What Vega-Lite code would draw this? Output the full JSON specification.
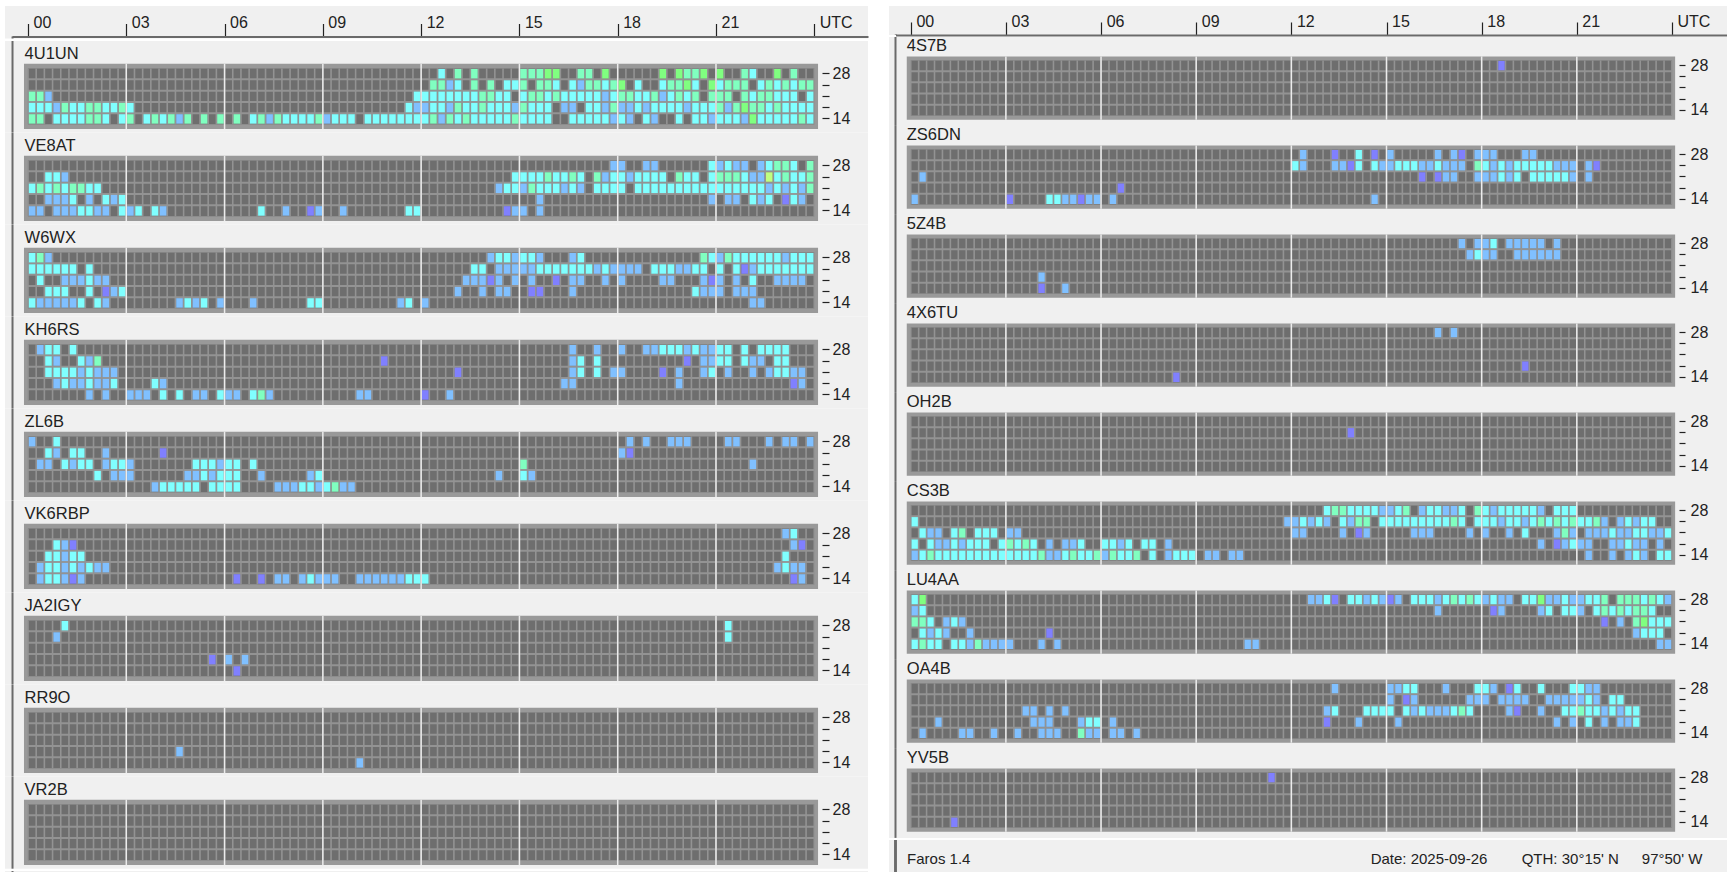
{"$schema":"https://vega.github.io/schema/vega-lite/v6.json","background":"white","padding":{"left":5,"top":6,"right":0,"bottom":0},
"config":{"view":{"fill":"#f0f0f0","stroke":null},"text":{"font":"Liberation Sans","color":"#222"}},
"datasets":{
"slots":[{"q":0},{"q":1},{"q":2},{"q":3},{"q":4},{"q":5},{"q":6},{"q":7},{"q":8},{"q":9},{"q":10},{"q":11},{"q":12},{"q":13},{"q":14},{"q":15},{"q":16},{"q":17},{"q":18},{"q":19},{"q":20},{"q":21},{"q":22},{"q":23},{"q":24},{"q":25},{"q":26},{"q":27},{"q":28},{"q":29},{"q":30},{"q":31},{"q":32},{"q":33},{"q":34},{"q":35},{"q":36},{"q":37},{"q":38},{"q":39},{"q":40},{"q":41},{"q":42},{"q":43},{"q":44},{"q":45},{"q":46},{"q":47},{"q":48},{"q":49},{"q":50},{"q":51},{"q":52},{"q":53},{"q":54},{"q":55},{"q":56},{"q":57},{"q":58},{"q":59},{"q":60},{"q":61},{"q":62},{"q":63},{"q":64},{"q":65},{"q":66},{"q":67},{"q":68},{"q":69},{"q":70},{"q":71},{"q":72},{"q":73},{"q":74},{"q":75},{"q":76},{"q":77},{"q":78},{"q":79},{"q":80},{"q":81},{"q":82},{"q":83},{"q":84},{"q":85},{"q":86},{"q":87},{"q":88},{"q":89},{"q":90},{"q":91},{"q":92},{"q":93},{"q":94},{"q":95},{"q":96}],
"seps":[{"b":28},{"b":24},{"b":21},{"b":18}],
"hours":[{"q":12},{"q":24},{"q":36},{"q":48},{"q":60},{"q":72},{"q":84}],
"L":[
{"s":"4U1UN","b":28,"q":50,"v":3},{"s":"4U1UN","b":28,"q":52,"v":4},{"s":"4U1UN","b":28,"q":54,"v":4},{"s":"4U1UN","b":28,"q":60,"v":4},{"s":"4U1UN","b":28,"q":61,"v":4},{"s":"4U1UN","b":28,"q":62,"v":4},{"s":"4U1UN","b":28,"q":63,"v":5},{"s":"4U1UN","b":28,"q":64,"v":5},{"s":"4U1UN","b":28,"q":67,"v":4},{"s":"4U1UN","b":28,"q":68,"v":4},{"s":"4U1UN","b":28,"q":70,"v":5},{"s":"4U1UN","b":28,"q":77,"v":5},{"s":"4U1UN","b":28,"q":79,"v":5},{"s":"4U1UN","b":28,"q":80,"v":4},{"s":"4U1UN","b":28,"q":81,"v":4},{"s":"4U1UN","b":28,"q":82,"v":5},{"s":"4U1UN","b":28,"q":84,"v":5},{"s":"4U1UN","b":28,"q":87,"v":4},{"s":"4U1UN","b":28,"q":88,"v":3},{"s":"4U1UN","b":28,"q":91,"v":5},{"s":"4U1UN","b":28,"q":93,"v":4},
{"s":"4U1UN","b":24,"q":49,"v":4},{"s":"4U1UN","b":24,"q":50,"v":4},{"s":"4U1UN","b":24,"q":51,"v":2},{"s":"4U1UN","b":24,"q":52,"v":3},{"s":"4U1UN","b":24,"q":54,"v":4},{"s":"4U1UN","b":24,"q":56,"v":4},{"s":"4U1UN","b":24,"q":58,"v":3},{"s":"4U1UN","b":24,"q":59,"v":3},{"s":"4U1UN","b":24,"q":60,"v":4},{"s":"4U1UN","b":24,"q":62,"v":4},{"s":"4U1UN","b":24,"q":63,"v":4},{"s":"4U1UN","b":24,"q":64,"v":3},{"s":"4U1UN","b":24,"q":66,"v":3},{"s":"4U1UN","b":24,"q":67,"v":2},{"s":"4U1UN","b":24,"q":68,"v":4},{"s":"4U1UN","b":24,"q":69,"v":4},{"s":"4U1UN","b":24,"q":70,"v":3},{"s":"4U1UN","b":24,"q":71,"v":4},{"s":"4U1UN","b":24,"q":72,"v":5},{"s":"4U1UN","b":24,"q":74,"v":3},{"s":"4U1UN","b":24,"q":77,"v":3},{"s":"4U1UN","b":24,"q":78,"v":4},{"s":"4U1UN","b":24,"q":79,"v":4},{"s":"4U1UN","b":24,"q":80,"v":5},{"s":"4U1UN","b":24,"q":81,"v":3},{"s":"4U1UN","b":24,"q":83,"v":5},{"s":"4U1UN","b":24,"q":84,"v":3},{"s":"4U1UN","b":24,"q":85,"v":4},{"s":"4U1UN","b":24,"q":86,"v":4},{"s":"4U1UN","b":24,"q":87,"v":4},{"s":"4U1UN","b":24,"q":89,"v":3},{"s":"4U1UN","b":24,"q":90,"v":4},{"s":"4U1UN","b":24,"q":91,"v":3},{"s":"4U1UN","b":24,"q":92,"v":4},{"s":"4U1UN","b":24,"q":93,"v":3},{"s":"4U1UN","b":24,"q":94,"v":4},{"s":"4U1UN","b":24,"q":95,"v":4},
{"s":"4U1UN","b":21,"q":0,"v":4},{"s":"4U1UN","b":21,"q":1,"v":4},{"s":"4U1UN","b":21,"q":2,"v":2},{"s":"4U1UN","b":21,"q":47,"v":3},{"s":"4U1UN","b":21,"q":48,"v":3},{"s":"4U1UN","b":21,"q":49,"v":3},{"s":"4U1UN","b":21,"q":50,"v":3},{"s":"4U1UN","b":21,"q":51,"v":3},{"s":"4U1UN","b":21,"q":52,"v":3},{"s":"4U1UN","b":21,"q":53,"v":3},{"s":"4U1UN","b":21,"q":54,"v":3},{"s":"4U1UN","b":21,"q":55,"v":4},{"s":"4U1UN","b":21,"q":56,"v":4},{"s":"4U1UN","b":21,"q":57,"v":3},{"s":"4U1UN","b":21,"q":58,"v":3},{"s":"4U1UN","b":21,"q":60,"v":3},{"s":"4U1UN","b":21,"q":61,"v":4},{"s":"4U1UN","b":21,"q":62,"v":4},{"s":"4U1UN","b":21,"q":63,"v":3},{"s":"4U1UN","b":21,"q":64,"v":4},{"s":"4U1UN","b":21,"q":65,"v":3},{"s":"4U1UN","b":21,"q":66,"v":3},{"s":"4U1UN","b":21,"q":67,"v":3},{"s":"4U1UN","b":21,"q":68,"v":3},{"s":"4U1UN","b":21,"q":69,"v":3},{"s":"4U1UN","b":21,"q":70,"v":2},{"s":"4U1UN","b":21,"q":71,"v":3},{"s":"4U1UN","b":21,"q":72,"v":4},{"s":"4U1UN","b":21,"q":73,"v":4},{"s":"4U1UN","b":21,"q":74,"v":3},{"s":"4U1UN","b":21,"q":75,"v":3},{"s":"4U1UN","b":21,"q":76,"v":4},{"s":"4U1UN","b":21,"q":77,"v":2},{"s":"4U1UN","b":21,"q":78,"v":3},{"s":"4U1UN","b":21,"q":79,"v":4},{"s":"4U1UN","b":21,"q":80,"v":3},{"s":"4U1UN","b":21,"q":81,"v":4},{"s":"4U1UN","b":21,"q":83,"v":4},{"s":"4U1UN","b":21,"q":84,"v":4},{"s":"4U1UN","b":21,"q":85,"v":4},{"s":"4U1UN","b":21,"q":87,"v":4},{"s":"4U1UN","b":21,"q":88,"v":3},{"s":"4U1UN","b":21,"q":89,"v":4},{"s":"4U1UN","b":21,"q":90,"v":4},{"s":"4U1UN","b":21,"q":91,"v":3},{"s":"4U1UN","b":21,"q":92,"v":3},{"s":"4U1UN","b":21,"q":93,"v":3},{"s":"4U1UN","b":21,"q":95,"v":3},
{"s":"4U1UN","b":18,"q":0,"v":3},{"s":"4U1UN","b":18,"q":1,"v":3},{"s":"4U1UN","b":18,"q":2,"v":3},{"s":"4U1UN","b":18,"q":3,"v":2},{"s":"4U1UN","b":18,"q":4,"v":4},{"s":"4U1UN","b":18,"q":5,"v":3},{"s":"4U1UN","b":18,"q":6,"v":3},{"s":"4U1UN","b":18,"q":7,"v":4},{"s":"4U1UN","b":18,"q":8,"v":4},{"s":"4U1UN","b":18,"q":9,"v":3},{"s":"4U1UN","b":18,"q":10,"v":3},{"s":"4U1UN","b":18,"q":11,"v":4},{"s":"4U1UN","b":18,"q":12,"v":3},{"s":"4U1UN","b":18,"q":46,"v":3},{"s":"4U1UN","b":18,"q":47,"v":2},{"s":"4U1UN","b":18,"q":48,"v":2},{"s":"4U1UN","b":18,"q":49,"v":3},{"s":"4U1UN","b":18,"q":50,"v":3},{"s":"4U1UN","b":18,"q":51,"v":2},{"s":"4U1UN","b":18,"q":52,"v":4},{"s":"4U1UN","b":18,"q":53,"v":3},{"s":"4U1UN","b":18,"q":54,"v":3},{"s":"4U1UN","b":18,"q":55,"v":4},{"s":"4U1UN","b":18,"q":56,"v":3},{"s":"4U1UN","b":18,"q":57,"v":3},{"s":"4U1UN","b":18,"q":58,"v":3},{"s":"4U1UN","b":18,"q":59,"v":2},{"s":"4U1UN","b":18,"q":60,"v":4},{"s":"4U1UN","b":18,"q":61,"v":3},{"s":"4U1UN","b":18,"q":62,"v":3},{"s":"4U1UN","b":18,"q":63,"v":3},{"s":"4U1UN","b":18,"q":65,"v":2},{"s":"4U1UN","b":18,"q":66,"v":2},{"s":"4U1UN","b":18,"q":68,"v":3},{"s":"4U1UN","b":18,"q":69,"v":3},{"s":"4U1UN","b":18,"q":70,"v":2},{"s":"4U1UN","b":18,"q":71,"v":4},{"s":"4U1UN","b":18,"q":72,"v":2},{"s":"4U1UN","b":18,"q":73,"v":2},{"s":"4U1UN","b":18,"q":74,"v":3},{"s":"4U1UN","b":18,"q":75,"v":2},{"s":"4U1UN","b":18,"q":76,"v":3},{"s":"4U1UN","b":18,"q":77,"v":3},{"s":"4U1UN","b":18,"q":78,"v":3},{"s":"4U1UN","b":18,"q":79,"v":3},{"s":"4U1UN","b":18,"q":80,"v":2},{"s":"4U1UN","b":18,"q":81,"v":3},{"s":"4U1UN","b":18,"q":82,"v":3},{"s":"4U1UN","b":18,"q":83,"v":3},{"s":"4U1UN","b":18,"q":84,"v":4},{"s":"4U1UN","b":18,"q":85,"v":2},{"s":"4U1UN","b":18,"q":86,"v":4},{"s":"4U1UN","b":18,"q":87,"v":5},{"s":"4U1UN","b":18,"q":88,"v":4},{"s":"4U1UN","b":18,"q":89,"v":4},{"s":"4U1UN","b":18,"q":90,"v":3},{"s":"4U1UN","b":18,"q":91,"v":4},{"s":"4U1UN","b":18,"q":92,"v":3},{"s":"4U1UN","b":18,"q":93,"v":3},{"s":"4U1UN","b":18,"q":94,"v":3},{"s":"4U1UN","b":18,"q":95,"v":3},
{"s":"4U1UN","b":14,"q":0,"v":4},{"s":"4U1UN","b":14,"q":1,"v":4},{"s":"4U1UN","b":14,"q":3,"v":3},{"s":"4U1UN","b":14,"q":4,"v":3},{"s":"4U1UN","b":14,"q":5,"v":3},{"s":"4U1UN","b":14,"q":6,"v":3},{"s":"4U1UN","b":14,"q":7,"v":4},{"s":"4U1UN","b":14,"q":8,"v":4},{"s":"4U1UN","b":14,"q":9,"v":3},{"s":"4U1UN","b":14,"q":11,"v":3},{"s":"4U1UN","b":14,"q":12,"v":4},{"s":"4U1UN","b":14,"q":14,"v":3},{"s":"4U1UN","b":14,"q":15,"v":4},{"s":"4U1UN","b":14,"q":16,"v":3},{"s":"4U1UN","b":14,"q":17,"v":4},{"s":"4U1UN","b":14,"q":18,"v":2},{"s":"4U1UN","b":14,"q":19,"v":4},{"s":"4U1UN","b":14,"q":21,"v":4},{"s":"4U1UN","b":14,"q":23,"v":4},{"s":"4U1UN","b":14,"q":25,"v":4},{"s":"4U1UN","b":14,"q":27,"v":3},{"s":"4U1UN","b":14,"q":28,"v":4},{"s":"4U1UN","b":14,"q":29,"v":2},{"s":"4U1UN","b":14,"q":30,"v":4},{"s":"4U1UN","b":14,"q":31,"v":3},{"s":"4U1UN","b":14,"q":32,"v":3},{"s":"4U1UN","b":14,"q":33,"v":3},{"s":"4U1UN","b":14,"q":34,"v":3},{"s":"4U1UN","b":14,"q":35,"v":4},{"s":"4U1UN","b":14,"q":36,"v":2},{"s":"4U1UN","b":14,"q":37,"v":3},{"s":"4U1UN","b":14,"q":38,"v":3},{"s":"4U1UN","b":14,"q":39,"v":3},{"s":"4U1UN","b":14,"q":41,"v":3},{"s":"4U1UN","b":14,"q":42,"v":3},{"s":"4U1UN","b":14,"q":43,"v":3},{"s":"4U1UN","b":14,"q":44,"v":3},{"s":"4U1UN","b":14,"q":45,"v":3},{"s":"4U1UN","b":14,"q":46,"v":3},{"s":"4U1UN","b":14,"q":47,"v":3},{"s":"4U1UN","b":14,"q":48,"v":3},{"s":"4U1UN","b":14,"q":49,"v":4},{"s":"4U1UN","b":14,"q":50,"v":2},{"s":"4U1UN","b":14,"q":51,"v":4},{"s":"4U1UN","b":14,"q":52,"v":3},{"s":"4U1UN","b":14,"q":53,"v":4},{"s":"4U1UN","b":14,"q":54,"v":3},{"s":"4U1UN","b":14,"q":55,"v":3},{"s":"4U1UN","b":14,"q":56,"v":3},{"s":"4U1UN","b":14,"q":57,"v":3},{"s":"4U1UN","b":14,"q":58,"v":3},{"s":"4U1UN","b":14,"q":59,"v":4},{"s":"4U1UN","b":14,"q":60,"v":3},{"s":"4U1UN","b":14,"q":61,"v":3},{"s":"4U1UN","b":14,"q":62,"v":3},{"s":"4U1UN","b":14,"q":63,"v":3},{"s":"4U1UN","b":14,"q":66,"v":3},{"s":"4U1UN","b":14,"q":67,"v":3},{"s":"4U1UN","b":14,"q":68,"v":3},{"s":"4U1UN","b":14,"q":69,"v":3},{"s":"4U1UN","b":14,"q":70,"v":3},{"s":"4U1UN","b":14,"q":71,"v":2},{"s":"4U1UN","b":14,"q":72,"v":3},{"s":"4U1UN","b":14,"q":73,"v":2},{"s":"4U1UN","b":14,"q":75,"v":3},{"s":"4U1UN","b":14,"q":76,"v":2},{"s":"4U1UN","b":14,"q":79,"v":3},{"s":"4U1UN","b":14,"q":81,"v":3},{"s":"4U1UN","b":14,"q":82,"v":3},{"s":"4U1UN","b":14,"q":83,"v":2},{"s":"4U1UN","b":14,"q":84,"v":3},{"s":"4U1UN","b":14,"q":85,"v":3},{"s":"4U1UN","b":14,"q":86,"v":3},{"s":"4U1UN","b":14,"q":87,"v":2},{"s":"4U1UN","b":14,"q":88,"v":5},{"s":"4U1UN","b":14,"q":89,"v":3},{"s":"4U1UN","b":14,"q":90,"v":3},{"s":"4U1UN","b":14,"q":91,"v":3},{"s":"4U1UN","b":14,"q":92,"v":3},{"s":"4U1UN","b":14,"q":93,"v":3},{"s":"4U1UN","b":14,"q":94,"v":4},{"s":"4U1UN","b":14,"q":95,"v":3},
{"s":"VE8AT","b":28,"q":71,"v":2},{"s":"VE8AT","b":28,"q":72,"v":2},{"s":"VE8AT","b":28,"q":75,"v":2},{"s":"VE8AT","b":28,"q":76,"v":2},{"s":"VE8AT","b":28,"q":83,"v":3},{"s":"VE8AT","b":28,"q":84,"v":2},{"s":"VE8AT","b":28,"q":85,"v":3},{"s":"VE8AT","b":28,"q":86,"v":2},{"s":"VE8AT","b":28,"q":87,"v":2},{"s":"VE8AT","b":28,"q":89,"v":2},{"s":"VE8AT","b":28,"q":90,"v":3},{"s":"VE8AT","b":28,"q":91,"v":4},{"s":"VE8AT","b":28,"q":92,"v":4},{"s":"VE8AT","b":28,"q":93,"v":3},{"s":"VE8AT","b":28,"q":95,"v":4},
{"s":"VE8AT","b":24,"q":2,"v":3},{"s":"VE8AT","b":24,"q":3,"v":3},{"s":"VE8AT","b":24,"q":4,"v":2},{"s":"VE8AT","b":24,"q":59,"v":3},{"s":"VE8AT","b":24,"q":60,"v":3},{"s":"VE8AT","b":24,"q":61,"v":3},{"s":"VE8AT","b":24,"q":62,"v":3},{"s":"VE8AT","b":24,"q":63,"v":4},{"s":"VE8AT","b":24,"q":64,"v":3},{"s":"VE8AT","b":24,"q":65,"v":3},{"s":"VE8AT","b":24,"q":66,"v":4},{"s":"VE8AT","b":24,"q":67,"v":3},{"s":"VE8AT","b":24,"q":69,"v":4},{"s":"VE8AT","b":24,"q":70,"v":2},{"s":"VE8AT","b":24,"q":71,"v":3},{"s":"VE8AT","b":24,"q":72,"v":3},{"s":"VE8AT","b":24,"q":73,"v":2},{"s":"VE8AT","b":24,"q":74,"v":3},{"s":"VE8AT","b":24,"q":75,"v":3},{"s":"VE8AT","b":24,"q":76,"v":3},{"s":"VE8AT","b":24,"q":77,"v":3},{"s":"VE8AT","b":24,"q":79,"v":4},{"s":"VE8AT","b":24,"q":80,"v":3},{"s":"VE8AT","b":24,"q":81,"v":3},{"s":"VE8AT","b":24,"q":83,"v":3},{"s":"VE8AT","b":24,"q":84,"v":4},{"s":"VE8AT","b":24,"q":85,"v":4},{"s":"VE8AT","b":24,"q":86,"v":4},{"s":"VE8AT","b":24,"q":87,"v":3},{"s":"VE8AT","b":24,"q":88,"v":2},{"s":"VE8AT","b":24,"q":89,"v":2},{"s":"VE8AT","b":24,"q":90,"v":6},{"s":"VE8AT","b":24,"q":91,"v":3},{"s":"VE8AT","b":24,"q":92,"v":4},{"s":"VE8AT","b":24,"q":93,"v":3},{"s":"VE8AT","b":24,"q":94,"v":3},{"s":"VE8AT","b":24,"q":95,"v":4},
{"s":"VE8AT","b":21,"q":0,"v":3},{"s":"VE8AT","b":21,"q":1,"v":4},{"s":"VE8AT","b":21,"q":2,"v":3},{"s":"VE8AT","b":21,"q":3,"v":4},{"s":"VE8AT","b":21,"q":4,"v":3},{"s":"VE8AT","b":21,"q":5,"v":4},{"s":"VE8AT","b":21,"q":6,"v":4},{"s":"VE8AT","b":21,"q":7,"v":3},{"s":"VE8AT","b":21,"q":8,"v":3},{"s":"VE8AT","b":21,"q":57,"v":2},{"s":"VE8AT","b":21,"q":58,"v":3},{"s":"VE8AT","b":21,"q":59,"v":3},{"s":"VE8AT","b":21,"q":60,"v":2},{"s":"VE8AT","b":21,"q":61,"v":4},{"s":"VE8AT","b":21,"q":62,"v":3},{"s":"VE8AT","b":21,"q":63,"v":3},{"s":"VE8AT","b":21,"q":64,"v":3},{"s":"VE8AT","b":21,"q":65,"v":2},{"s":"VE8AT","b":21,"q":66,"v":3},{"s":"VE8AT","b":21,"q":67,"v":2},{"s":"VE8AT","b":21,"q":69,"v":3},{"s":"VE8AT","b":21,"q":70,"v":3},{"s":"VE8AT","b":21,"q":71,"v":3},{"s":"VE8AT","b":21,"q":72,"v":3},{"s":"VE8AT","b":21,"q":74,"v":3},{"s":"VE8AT","b":21,"q":75,"v":3},{"s":"VE8AT","b":21,"q":76,"v":3},{"s":"VE8AT","b":21,"q":77,"v":3},{"s":"VE8AT","b":21,"q":78,"v":3},{"s":"VE8AT","b":21,"q":79,"v":3},{"s":"VE8AT","b":21,"q":80,"v":3},{"s":"VE8AT","b":21,"q":81,"v":3},{"s":"VE8AT","b":21,"q":82,"v":3},{"s":"VE8AT","b":21,"q":83,"v":3},{"s":"VE8AT","b":21,"q":84,"v":3},{"s":"VE8AT","b":21,"q":85,"v":3},{"s":"VE8AT","b":21,"q":86,"v":3},{"s":"VE8AT","b":21,"q":87,"v":3},{"s":"VE8AT","b":21,"q":88,"v":3},{"s":"VE8AT","b":21,"q":89,"v":3},{"s":"VE8AT","b":21,"q":90,"v":2},{"s":"VE8AT","b":21,"q":91,"v":3},{"s":"VE8AT","b":21,"q":92,"v":2},{"s":"VE8AT","b":21,"q":93,"v":3},{"s":"VE8AT","b":21,"q":94,"v":2},{"s":"VE8AT","b":21,"q":95,"v":4},
{"s":"VE8AT","b":18,"q":2,"v":2},{"s":"VE8AT","b":18,"q":3,"v":2},{"s":"VE8AT","b":18,"q":4,"v":2},{"s":"VE8AT","b":18,"q":5,"v":3},{"s":"VE8AT","b":18,"q":7,"v":2},{"s":"VE8AT","b":18,"q":9,"v":3},{"s":"VE8AT","b":18,"q":10,"v":2},{"s":"VE8AT","b":18,"q":11,"v":3},{"s":"VE8AT","b":18,"q":62,"v":2},{"s":"VE8AT","b":18,"q":83,"v":2},{"s":"VE8AT","b":18,"q":85,"v":2},{"s":"VE8AT","b":18,"q":86,"v":2},{"s":"VE8AT","b":18,"q":88,"v":3},{"s":"VE8AT","b":18,"q":89,"v":2},{"s":"VE8AT","b":18,"q":90,"v":3},{"s":"VE8AT","b":18,"q":92,"v":1},{"s":"VE8AT","b":18,"q":93,"v":3},{"s":"VE8AT","b":18,"q":94,"v":2},
{"s":"VE8AT","b":14,"q":0,"v":2},{"s":"VE8AT","b":14,"q":1,"v":2},{"s":"VE8AT","b":14,"q":3,"v":2},{"s":"VE8AT","b":14,"q":4,"v":2},{"s":"VE8AT","b":14,"q":5,"v":2},{"s":"VE8AT","b":14,"q":6,"v":3},{"s":"VE8AT","b":14,"q":7,"v":3},{"s":"VE8AT","b":14,"q":8,"v":2},{"s":"VE8AT","b":14,"q":9,"v":2},{"s":"VE8AT","b":14,"q":11,"v":3},{"s":"VE8AT","b":14,"q":12,"v":2},{"s":"VE8AT","b":14,"q":13,"v":3},{"s":"VE8AT","b":14,"q":15,"v":3},{"s":"VE8AT","b":14,"q":16,"v":2},{"s":"VE8AT","b":14,"q":28,"v":3},{"s":"VE8AT","b":14,"q":31,"v":2},{"s":"VE8AT","b":14,"q":34,"v":1},{"s":"VE8AT","b":14,"q":35,"v":2},{"s":"VE8AT","b":14,"q":38,"v":2},{"s":"VE8AT","b":14,"q":46,"v":3},{"s":"VE8AT","b":14,"q":47,"v":3},{"s":"VE8AT","b":14,"q":58,"v":1},{"s":"VE8AT","b":14,"q":59,"v":2},{"s":"VE8AT","b":14,"q":60,"v":2},{"s":"VE8AT","b":14,"q":62,"v":2},
{"s":"W6WX","b":28,"q":0,"v":3},{"s":"W6WX","b":28,"q":1,"v":4},{"s":"W6WX","b":28,"q":2,"v":2},{"s":"W6WX","b":28,"q":56,"v":2},{"s":"W6WX","b":28,"q":57,"v":3},{"s":"W6WX","b":28,"q":58,"v":3},{"s":"W6WX","b":28,"q":59,"v":2},{"s":"W6WX","b":28,"q":60,"v":3},{"s":"W6WX","b":28,"q":61,"v":3},{"s":"W6WX","b":28,"q":62,"v":2},{"s":"W6WX","b":28,"q":66,"v":2},{"s":"W6WX","b":28,"q":67,"v":3},{"s":"W6WX","b":28,"q":82,"v":4},{"s":"W6WX","b":28,"q":83,"v":3},{"s":"W6WX","b":28,"q":84,"v":2},{"s":"W6WX","b":28,"q":85,"v":4},{"s":"W6WX","b":28,"q":86,"v":3},{"s":"W6WX","b":28,"q":87,"v":3},{"s":"W6WX","b":28,"q":88,"v":3},{"s":"W6WX","b":28,"q":89,"v":3},{"s":"W6WX","b":28,"q":90,"v":3},{"s":"W6WX","b":28,"q":91,"v":3},{"s":"W6WX","b":28,"q":92,"v":2},{"s":"W6WX","b":28,"q":93,"v":3},{"s":"W6WX","b":28,"q":94,"v":3},{"s":"W6WX","b":28,"q":95,"v":3},
{"s":"W6WX","b":24,"q":0,"v":3},{"s":"W6WX","b":24,"q":1,"v":3},{"s":"W6WX","b":24,"q":2,"v":3},{"s":"W6WX","b":24,"q":3,"v":3},{"s":"W6WX","b":24,"q":4,"v":3},{"s":"W6WX","b":24,"q":5,"v":3},{"s":"W6WX","b":24,"q":7,"v":3},{"s":"W6WX","b":24,"q":54,"v":3},{"s":"W6WX","b":24,"q":55,"v":3},{"s":"W6WX","b":24,"q":57,"v":2},{"s":"W6WX","b":24,"q":58,"v":2},{"s":"W6WX","b":24,"q":59,"v":2},{"s":"W6WX","b":24,"q":60,"v":2},{"s":"W6WX","b":24,"q":61,"v":2},{"s":"W6WX","b":24,"q":62,"v":3},{"s":"W6WX","b":24,"q":63,"v":3},{"s":"W6WX","b":24,"q":64,"v":3},{"s":"W6WX","b":24,"q":65,"v":3},{"s":"W6WX","b":24,"q":66,"v":3},{"s":"W6WX","b":24,"q":67,"v":3},{"s":"W6WX","b":24,"q":68,"v":3},{"s":"W6WX","b":24,"q":69,"v":2},{"s":"W6WX","b":24,"q":70,"v":3},{"s":"W6WX","b":24,"q":71,"v":2},{"s":"W6WX","b":24,"q":72,"v":2},{"s":"W6WX","b":24,"q":73,"v":2},{"s":"W6WX","b":24,"q":74,"v":2},{"s":"W6WX","b":24,"q":76,"v":3},{"s":"W6WX","b":24,"q":77,"v":3},{"s":"W6WX","b":24,"q":78,"v":3},{"s":"W6WX","b":24,"q":79,"v":2},{"s":"W6WX","b":24,"q":80,"v":2},{"s":"W6WX","b":24,"q":81,"v":3},{"s":"W6WX","b":24,"q":82,"v":3},{"s":"W6WX","b":24,"q":84,"v":3},{"s":"W6WX","b":24,"q":86,"v":3},{"s":"W6WX","b":24,"q":87,"v":1},{"s":"W6WX","b":24,"q":88,"v":2},{"s":"W6WX","b":24,"q":89,"v":3},{"s":"W6WX","b":24,"q":90,"v":3},{"s":"W6WX","b":24,"q":91,"v":3},{"s":"W6WX","b":24,"q":92,"v":3},{"s":"W6WX","b":24,"q":93,"v":3},{"s":"W6WX","b":24,"q":94,"v":3},{"s":"W6WX","b":24,"q":95,"v":3},
{"s":"W6WX","b":21,"q":1,"v":3},{"s":"W6WX","b":21,"q":4,"v":2},{"s":"W6WX","b":21,"q":5,"v":2},{"s":"W6WX","b":21,"q":6,"v":2},{"s":"W6WX","b":21,"q":7,"v":3},{"s":"W6WX","b":21,"q":8,"v":2},{"s":"W6WX","b":21,"q":9,"v":2},{"s":"W6WX","b":21,"q":53,"v":2},{"s":"W6WX","b":21,"q":54,"v":2},{"s":"W6WX","b":21,"q":55,"v":2},{"s":"W6WX","b":21,"q":56,"v":1},{"s":"W6WX","b":21,"q":57,"v":2},{"s":"W6WX","b":21,"q":59,"v":2},{"s":"W6WX","b":21,"q":61,"v":2},{"s":"W6WX","b":21,"q":64,"v":1},{"s":"W6WX","b":21,"q":66,"v":2},{"s":"W6WX","b":21,"q":67,"v":2},{"s":"W6WX","b":21,"q":70,"v":2},{"s":"W6WX","b":21,"q":72,"v":2},{"s":"W6WX","b":21,"q":77,"v":2},{"s":"W6WX","b":21,"q":78,"v":2},{"s":"W6WX","b":21,"q":82,"v":2},{"s":"W6WX","b":21,"q":83,"v":1},{"s":"W6WX","b":21,"q":84,"v":2},{"s":"W6WX","b":21,"q":86,"v":2},{"s":"W6WX","b":21,"q":88,"v":3},{"s":"W6WX","b":21,"q":91,"v":2},{"s":"W6WX","b":21,"q":92,"v":2},{"s":"W6WX","b":21,"q":93,"v":2},{"s":"W6WX","b":21,"q":94,"v":2},
{"s":"W6WX","b":18,"q":2,"v":3},{"s":"W6WX","b":18,"q":3,"v":3},{"s":"W6WX","b":18,"q":4,"v":3},{"s":"W6WX","b":18,"q":7,"v":3},{"s":"W6WX","b":18,"q":9,"v":1},{"s":"W6WX","b":18,"q":10,"v":2},{"s":"W6WX","b":18,"q":11,"v":3},{"s":"W6WX","b":18,"q":52,"v":2},{"s":"W6WX","b":18,"q":55,"v":2},{"s":"W6WX","b":18,"q":57,"v":2},{"s":"W6WX","b":18,"q":58,"v":2},{"s":"W6WX","b":18,"q":61,"v":1},{"s":"W6WX","b":18,"q":62,"v":1},{"s":"W6WX","b":18,"q":66,"v":2},{"s":"W6WX","b":18,"q":81,"v":3},{"s":"W6WX","b":18,"q":82,"v":2},{"s":"W6WX","b":18,"q":83,"v":2},{"s":"W6WX","b":18,"q":84,"v":2},{"s":"W6WX","b":18,"q":86,"v":2},{"s":"W6WX","b":18,"q":87,"v":2},{"s":"W6WX","b":18,"q":88,"v":2},
{"s":"W6WX","b":14,"q":0,"v":3},{"s":"W6WX","b":14,"q":1,"v":2},{"s":"W6WX","b":14,"q":2,"v":2},{"s":"W6WX","b":14,"q":3,"v":2},{"s":"W6WX","b":14,"q":4,"v":2},{"s":"W6WX","b":14,"q":5,"v":2},{"s":"W6WX","b":14,"q":6,"v":3},{"s":"W6WX","b":14,"q":8,"v":3},{"s":"W6WX","b":14,"q":9,"v":2},{"s":"W6WX","b":14,"q":18,"v":2},{"s":"W6WX","b":14,"q":19,"v":3},{"s":"W6WX","b":14,"q":20,"v":2},{"s":"W6WX","b":14,"q":21,"v":3},{"s":"W6WX","b":14,"q":23,"v":2},{"s":"W6WX","b":14,"q":27,"v":2},{"s":"W6WX","b":14,"q":34,"v":3},{"s":"W6WX","b":14,"q":35,"v":3},{"s":"W6WX","b":14,"q":45,"v":2},{"s":"W6WX","b":14,"q":46,"v":3},{"s":"W6WX","b":14,"q":48,"v":2},{"s":"W6WX","b":14,"q":88,"v":2},{"s":"W6WX","b":14,"q":89,"v":2},
{"s":"KH6RS","b":28,"q":1,"v":2},{"s":"KH6RS","b":28,"q":2,"v":3},{"s":"KH6RS","b":28,"q":3,"v":3},{"s":"KH6RS","b":28,"q":5,"v":3},{"s":"KH6RS","b":28,"q":66,"v":2},{"s":"KH6RS","b":28,"q":69,"v":2},{"s":"KH6RS","b":28,"q":72,"v":2},{"s":"KH6RS","b":28,"q":75,"v":2},{"s":"KH6RS","b":28,"q":76,"v":2},{"s":"KH6RS","b":28,"q":77,"v":3},{"s":"KH6RS","b":28,"q":78,"v":3},{"s":"KH6RS","b":28,"q":79,"v":3},{"s":"KH6RS","b":28,"q":80,"v":2},{"s":"KH6RS","b":28,"q":81,"v":3},{"s":"KH6RS","b":28,"q":82,"v":2},{"s":"KH6RS","b":28,"q":83,"v":2},{"s":"KH6RS","b":28,"q":84,"v":3},{"s":"KH6RS","b":28,"q":85,"v":3},{"s":"KH6RS","b":28,"q":87,"v":3},{"s":"KH6RS","b":28,"q":89,"v":3},{"s":"KH6RS","b":28,"q":90,"v":3},{"s":"KH6RS","b":28,"q":91,"v":3},{"s":"KH6RS","b":28,"q":92,"v":3},
{"s":"KH6RS","b":24,"q":2,"v":3},{"s":"KH6RS","b":24,"q":3,"v":2},{"s":"KH6RS","b":24,"q":6,"v":3},{"s":"KH6RS","b":24,"q":7,"v":2},{"s":"KH6RS","b":24,"q":8,"v":4},{"s":"KH6RS","b":24,"q":43,"v":1},{"s":"KH6RS","b":24,"q":66,"v":2},{"s":"KH6RS","b":24,"q":67,"v":3},{"s":"KH6RS","b":24,"q":69,"v":3},{"s":"KH6RS","b":24,"q":80,"v":1},{"s":"KH6RS","b":24,"q":82,"v":2},{"s":"KH6RS","b":24,"q":83,"v":2},{"s":"KH6RS","b":24,"q":84,"v":3},{"s":"KH6RS","b":24,"q":85,"v":3},{"s":"KH6RS","b":24,"q":87,"v":3},{"s":"KH6RS","b":24,"q":88,"v":2},{"s":"KH6RS","b":24,"q":89,"v":2},{"s":"KH6RS","b":24,"q":91,"v":3},{"s":"KH6RS","b":24,"q":92,"v":3},
{"s":"KH6RS","b":21,"q":2,"v":3},{"s":"KH6RS","b":21,"q":3,"v":3},{"s":"KH6RS","b":21,"q":4,"v":3},{"s":"KH6RS","b":21,"q":5,"v":3},{"s":"KH6RS","b":21,"q":6,"v":2},{"s":"KH6RS","b":21,"q":7,"v":3},{"s":"KH6RS","b":21,"q":8,"v":2},{"s":"KH6RS","b":21,"q":9,"v":2},{"s":"KH6RS","b":21,"q":10,"v":2},{"s":"KH6RS","b":21,"q":52,"v":1},{"s":"KH6RS","b":21,"q":66,"v":2},{"s":"KH6RS","b":21,"q":67,"v":3},{"s":"KH6RS","b":21,"q":69,"v":3},{"s":"KH6RS","b":21,"q":71,"v":2},{"s":"KH6RS","b":21,"q":72,"v":2},{"s":"KH6RS","b":21,"q":77,"v":1},{"s":"KH6RS","b":21,"q":79,"v":2},{"s":"KH6RS","b":21,"q":82,"v":2},{"s":"KH6RS","b":21,"q":83,"v":3},{"s":"KH6RS","b":21,"q":85,"v":2},{"s":"KH6RS","b":21,"q":88,"v":2},{"s":"KH6RS","b":21,"q":90,"v":2},{"s":"KH6RS","b":21,"q":91,"v":3},{"s":"KH6RS","b":21,"q":92,"v":3},{"s":"KH6RS","b":21,"q":93,"v":2},{"s":"KH6RS","b":21,"q":94,"v":2},
{"s":"KH6RS","b":18,"q":3,"v":2},{"s":"KH6RS","b":18,"q":4,"v":3},{"s":"KH6RS","b":18,"q":5,"v":2},{"s":"KH6RS","b":18,"q":6,"v":2},{"s":"KH6RS","b":18,"q":7,"v":3},{"s":"KH6RS","b":18,"q":8,"v":2},{"s":"KH6RS","b":18,"q":9,"v":2},{"s":"KH6RS","b":18,"q":10,"v":3},{"s":"KH6RS","b":18,"q":15,"v":3},{"s":"KH6RS","b":18,"q":16,"v":2},{"s":"KH6RS","b":18,"q":65,"v":2},{"s":"KH6RS","b":18,"q":66,"v":2},{"s":"KH6RS","b":18,"q":79,"v":2},{"s":"KH6RS","b":18,"q":93,"v":1},{"s":"KH6RS","b":18,"q":94,"v":2},
{"s":"KH6RS","b":14,"q":7,"v":2},{"s":"KH6RS","b":14,"q":9,"v":2},{"s":"KH6RS","b":14,"q":12,"v":2},{"s":"KH6RS","b":14,"q":13,"v":2},{"s":"KH6RS","b":14,"q":14,"v":2},{"s":"KH6RS","b":14,"q":16,"v":3},{"s":"KH6RS","b":14,"q":18,"v":3},{"s":"KH6RS","b":14,"q":20,"v":2},{"s":"KH6RS","b":14,"q":21,"v":2},{"s":"KH6RS","b":14,"q":23,"v":3},{"s":"KH6RS","b":14,"q":24,"v":2},{"s":"KH6RS","b":14,"q":25,"v":2},{"s":"KH6RS","b":14,"q":27,"v":3},{"s":"KH6RS","b":14,"q":28,"v":4},{"s":"KH6RS","b":14,"q":29,"v":2},{"s":"KH6RS","b":14,"q":40,"v":2},{"s":"KH6RS","b":14,"q":41,"v":2},{"s":"KH6RS","b":14,"q":48,"v":1},{"s":"KH6RS","b":14,"q":51,"v":2},
{"s":"ZL6B","b":28,"q":0,"v":2},{"s":"ZL6B","b":28,"q":3,"v":3},{"s":"ZL6B","b":28,"q":73,"v":2},{"s":"ZL6B","b":28,"q":75,"v":2},{"s":"ZL6B","b":28,"q":78,"v":2},{"s":"ZL6B","b":28,"q":79,"v":2},{"s":"ZL6B","b":28,"q":80,"v":2},{"s":"ZL6B","b":28,"q":85,"v":2},{"s":"ZL6B","b":28,"q":86,"v":2},{"s":"ZL6B","b":28,"q":90,"v":2},{"s":"ZL6B","b":28,"q":92,"v":2},{"s":"ZL6B","b":28,"q":93,"v":2},{"s":"ZL6B","b":28,"q":95,"v":2},
{"s":"ZL6B","b":24,"q":2,"v":3},{"s":"ZL6B","b":24,"q":3,"v":2},{"s":"ZL6B","b":24,"q":5,"v":3},{"s":"ZL6B","b":24,"q":6,"v":3},{"s":"ZL6B","b":24,"q":9,"v":2},{"s":"ZL6B","b":24,"q":16,"v":1},{"s":"ZL6B","b":24,"q":72,"v":2},{"s":"ZL6B","b":24,"q":73,"v":1},
{"s":"ZL6B","b":21,"q":1,"v":2},{"s":"ZL6B","b":21,"q":2,"v":2},{"s":"ZL6B","b":21,"q":4,"v":3},{"s":"ZL6B","b":21,"q":5,"v":2},{"s":"ZL6B","b":21,"q":6,"v":3},{"s":"ZL6B","b":21,"q":7,"v":3},{"s":"ZL6B","b":21,"q":9,"v":2},{"s":"ZL6B","b":21,"q":10,"v":3},{"s":"ZL6B","b":21,"q":11,"v":3},{"s":"ZL6B","b":21,"q":12,"v":2},{"s":"ZL6B","b":21,"q":20,"v":3},{"s":"ZL6B","b":21,"q":21,"v":3},{"s":"ZL6B","b":21,"q":22,"v":3},{"s":"ZL6B","b":21,"q":23,"v":2},{"s":"ZL6B","b":21,"q":24,"v":3},{"s":"ZL6B","b":21,"q":25,"v":3},{"s":"ZL6B","b":21,"q":27,"v":3},{"s":"ZL6B","b":21,"q":60,"v":4},{"s":"ZL6B","b":21,"q":88,"v":2},
{"s":"ZL6B","b":18,"q":8,"v":3},{"s":"ZL6B","b":18,"q":10,"v":2},{"s":"ZL6B","b":18,"q":11,"v":2},{"s":"ZL6B","b":18,"q":12,"v":2},{"s":"ZL6B","b":18,"q":19,"v":2},{"s":"ZL6B","b":18,"q":20,"v":2},{"s":"ZL6B","b":18,"q":21,"v":3},{"s":"ZL6B","b":18,"q":22,"v":2},{"s":"ZL6B","b":18,"q":23,"v":3},{"s":"ZL6B","b":18,"q":24,"v":3},{"s":"ZL6B","b":18,"q":25,"v":3},{"s":"ZL6B","b":18,"q":28,"v":2},{"s":"ZL6B","b":18,"q":34,"v":2},{"s":"ZL6B","b":18,"q":35,"v":3},{"s":"ZL6B","b":18,"q":57,"v":2},{"s":"ZL6B","b":18,"q":60,"v":3},{"s":"ZL6B","b":18,"q":61,"v":2},
{"s":"ZL6B","b":14,"q":15,"v":2},{"s":"ZL6B","b":14,"q":16,"v":3},{"s":"ZL6B","b":14,"q":17,"v":3},{"s":"ZL6B","b":14,"q":18,"v":3},{"s":"ZL6B","b":14,"q":19,"v":3},{"s":"ZL6B","b":14,"q":20,"v":3},{"s":"ZL6B","b":14,"q":22,"v":3},{"s":"ZL6B","b":14,"q":23,"v":3},{"s":"ZL6B","b":14,"q":24,"v":3},{"s":"ZL6B","b":14,"q":25,"v":3},{"s":"ZL6B","b":14,"q":30,"v":2},{"s":"ZL6B","b":14,"q":31,"v":2},{"s":"ZL6B","b":14,"q":32,"v":2},{"s":"ZL6B","b":14,"q":33,"v":3},{"s":"ZL6B","b":14,"q":34,"v":3},{"s":"ZL6B","b":14,"q":35,"v":2},{"s":"ZL6B","b":14,"q":36,"v":3},{"s":"ZL6B","b":14,"q":37,"v":4},{"s":"ZL6B","b":14,"q":38,"v":2},{"s":"ZL6B","b":14,"q":39,"v":2},
{"s":"VK6RBP","b":28,"q":92,"v":2},{"s":"VK6RBP","b":28,"q":93,"v":3},
{"s":"VK6RBP","b":24,"q":3,"v":3},{"s":"VK6RBP","b":24,"q":4,"v":2},{"s":"VK6RBP","b":24,"q":5,"v":1},{"s":"VK6RBP","b":24,"q":93,"v":2},{"s":"VK6RBP","b":24,"q":94,"v":1},
{"s":"VK6RBP","b":21,"q":2,"v":3},{"s":"VK6RBP","b":21,"q":3,"v":3},{"s":"VK6RBP","b":21,"q":4,"v":2},{"s":"VK6RBP","b":21,"q":5,"v":3},{"s":"VK6RBP","b":21,"q":6,"v":3},{"s":"VK6RBP","b":21,"q":92,"v":3},
{"s":"VK6RBP","b":18,"q":1,"v":2},{"s":"VK6RBP","b":18,"q":2,"v":3},{"s":"VK6RBP","b":18,"q":3,"v":3},{"s":"VK6RBP","b":18,"q":4,"v":2},{"s":"VK6RBP","b":18,"q":5,"v":3},{"s":"VK6RBP","b":18,"q":6,"v":2},{"s":"VK6RBP","b":18,"q":7,"v":3},{"s":"VK6RBP","b":18,"q":8,"v":2},{"s":"VK6RBP","b":18,"q":9,"v":2},{"s":"VK6RBP","b":18,"q":91,"v":2},{"s":"VK6RBP","b":18,"q":92,"v":3},{"s":"VK6RBP","b":18,"q":93,"v":2},{"s":"VK6RBP","b":18,"q":94,"v":2},
{"s":"VK6RBP","b":14,"q":1,"v":2},{"s":"VK6RBP","b":14,"q":2,"v":3},{"s":"VK6RBP","b":14,"q":3,"v":3},{"s":"VK6RBP","b":14,"q":4,"v":2},{"s":"VK6RBP","b":14,"q":5,"v":1},{"s":"VK6RBP","b":14,"q":6,"v":2},{"s":"VK6RBP","b":14,"q":25,"v":1},{"s":"VK6RBP","b":14,"q":28,"v":1},{"s":"VK6RBP","b":14,"q":30,"v":2},{"s":"VK6RBP","b":14,"q":31,"v":2},{"s":"VK6RBP","b":14,"q":33,"v":2},{"s":"VK6RBP","b":14,"q":34,"v":3},{"s":"VK6RBP","b":14,"q":35,"v":2},{"s":"VK6RBP","b":14,"q":36,"v":2},{"s":"VK6RBP","b":14,"q":37,"v":2},{"s":"VK6RBP","b":14,"q":40,"v":2},{"s":"VK6RBP","b":14,"q":41,"v":2},{"s":"VK6RBP","b":14,"q":42,"v":2},{"s":"VK6RBP","b":14,"q":43,"v":2},{"s":"VK6RBP","b":14,"q":44,"v":2},{"s":"VK6RBP","b":14,"q":45,"v":2},{"s":"VK6RBP","b":14,"q":46,"v":3},{"s":"VK6RBP","b":14,"q":47,"v":3},{"s":"VK6RBP","b":14,"q":48,"v":3},{"s":"VK6RBP","b":14,"q":93,"v":1},{"s":"VK6RBP","b":14,"q":94,"v":2},
{"s":"JA2IGY","b":28,"q":4,"v":3},{"s":"JA2IGY","b":28,"q":85,"v":3},{"s":"JA2IGY","b":24,"q":3,"v":2},{"s":"JA2IGY","b":24,"q":85,"v":3},{"s":"JA2IGY","b":18,"q":22,"v":1},{"s":"JA2IGY","b":18,"q":24,"v":2},{"s":"JA2IGY","b":18,"q":26,"v":2},{"s":"JA2IGY","b":14,"q":25,"v":1},
{"s":"RR9O","b":18,"q":18,"v":2},{"s":"RR9O","b":14,"q":40,"v":2},
{"s":"VR2B","b":14,"q":0,"v":0}
],
"R":[
{"s":"4S7B","b":28,"q":74,"v":1},
{"s":"ZS6DN","b":28,"q":49,"v":2},{"s":"ZS6DN","b":28,"q":53,"v":1},{"s":"ZS6DN","b":28,"q":56,"v":3},{"s":"ZS6DN","b":28,"q":58,"v":1},{"s":"ZS6DN","b":28,"q":60,"v":2},{"s":"ZS6DN","b":28,"q":66,"v":2},{"s":"ZS6DN","b":28,"q":68,"v":2},{"s":"ZS6DN","b":28,"q":69,"v":1},{"s":"ZS6DN","b":28,"q":71,"v":2},{"s":"ZS6DN","b":28,"q":72,"v":2},{"s":"ZS6DN","b":28,"q":73,"v":2},{"s":"ZS6DN","b":28,"q":77,"v":2},{"s":"ZS6DN","b":28,"q":78,"v":2},
{"s":"ZS6DN","b":24,"q":48,"v":3},{"s":"ZS6DN","b":24,"q":49,"v":2},{"s":"ZS6DN","b":24,"q":53,"v":2},{"s":"ZS6DN","b":24,"q":54,"v":2},{"s":"ZS6DN","b":24,"q":55,"v":1},{"s":"ZS6DN","b":24,"q":56,"v":3},{"s":"ZS6DN","b":24,"q":58,"v":3},{"s":"ZS6DN","b":24,"q":59,"v":2},{"s":"ZS6DN","b":24,"q":60,"v":2},{"s":"ZS6DN","b":24,"q":61,"v":3},{"s":"ZS6DN","b":24,"q":62,"v":3},{"s":"ZS6DN","b":24,"q":63,"v":3},{"s":"ZS6DN","b":24,"q":64,"v":2},{"s":"ZS6DN","b":24,"q":65,"v":2},{"s":"ZS6DN","b":24,"q":66,"v":3},{"s":"ZS6DN","b":24,"q":67,"v":2},{"s":"ZS6DN","b":24,"q":68,"v":2},{"s":"ZS6DN","b":24,"q":69,"v":2},{"s":"ZS6DN","b":24,"q":71,"v":4},{"s":"ZS6DN","b":24,"q":72,"v":3},{"s":"ZS6DN","b":24,"q":73,"v":2},{"s":"ZS6DN","b":24,"q":74,"v":3},{"s":"ZS6DN","b":24,"q":75,"v":2},{"s":"ZS6DN","b":24,"q":76,"v":3},{"s":"ZS6DN","b":24,"q":77,"v":3},{"s":"ZS6DN","b":24,"q":78,"v":3},{"s":"ZS6DN","b":24,"q":79,"v":3},{"s":"ZS6DN","b":24,"q":80,"v":3},{"s":"ZS6DN","b":24,"q":81,"v":2},{"s":"ZS6DN","b":24,"q":82,"v":2},{"s":"ZS6DN","b":24,"q":83,"v":2},{"s":"ZS6DN","b":24,"q":85,"v":2},{"s":"ZS6DN","b":24,"q":86,"v":1},
{"s":"ZS6DN","b":21,"q":1,"v":2},{"s":"ZS6DN","b":21,"q":64,"v":1},{"s":"ZS6DN","b":21,"q":66,"v":1},{"s":"ZS6DN","b":21,"q":67,"v":2},{"s":"ZS6DN","b":21,"q":68,"v":2},{"s":"ZS6DN","b":21,"q":71,"v":2},{"s":"ZS6DN","b":21,"q":72,"v":2},{"s":"ZS6DN","b":21,"q":73,"v":2},{"s":"ZS6DN","b":21,"q":74,"v":3},{"s":"ZS6DN","b":21,"q":75,"v":2},{"s":"ZS6DN","b":21,"q":76,"v":3},{"s":"ZS6DN","b":21,"q":78,"v":3},{"s":"ZS6DN","b":21,"q":79,"v":3},{"s":"ZS6DN","b":21,"q":80,"v":3},{"s":"ZS6DN","b":21,"q":81,"v":3},{"s":"ZS6DN","b":21,"q":82,"v":3},{"s":"ZS6DN","b":21,"q":83,"v":2},{"s":"ZS6DN","b":21,"q":85,"v":2},
{"s":"ZS6DN","b":18,"q":26,"v":1},
{"s":"ZS6DN","b":14,"q":0,"v":2},{"s":"ZS6DN","b":14,"q":12,"v":1},{"s":"ZS6DN","b":14,"q":17,"v":3},{"s":"ZS6DN","b":14,"q":18,"v":3},{"s":"ZS6DN","b":14,"q":19,"v":2},{"s":"ZS6DN","b":14,"q":20,"v":2},{"s":"ZS6DN","b":14,"q":21,"v":1},{"s":"ZS6DN","b":14,"q":22,"v":2},{"s":"ZS6DN","b":14,"q":23,"v":2},{"s":"ZS6DN","b":14,"q":25,"v":2},{"s":"ZS6DN","b":14,"q":58,"v":2},
{"s":"5Z4B","b":28,"q":69,"v":2},{"s":"5Z4B","b":28,"q":71,"v":2},{"s":"5Z4B","b":28,"q":72,"v":2},{"s":"5Z4B","b":28,"q":73,"v":3},{"s":"5Z4B","b":28,"q":75,"v":2},{"s":"5Z4B","b":28,"q":76,"v":2},{"s":"5Z4B","b":28,"q":77,"v":2},{"s":"5Z4B","b":28,"q":78,"v":2},{"s":"5Z4B","b":28,"q":79,"v":2},{"s":"5Z4B","b":28,"q":81,"v":2},
{"s":"5Z4B","b":24,"q":70,"v":2},{"s":"5Z4B","b":24,"q":71,"v":3},{"s":"5Z4B","b":24,"q":72,"v":2},{"s":"5Z4B","b":24,"q":73,"v":2},{"s":"5Z4B","b":24,"q":76,"v":2},{"s":"5Z4B","b":24,"q":77,"v":2},{"s":"5Z4B","b":24,"q":78,"v":2},{"s":"5Z4B","b":24,"q":79,"v":2},{"s":"5Z4B","b":24,"q":80,"v":2},{"s":"5Z4B","b":24,"q":81,"v":2},
{"s":"5Z4B","b":18,"q":16,"v":2},{"s":"5Z4B","b":14,"q":16,"v":1},{"s":"5Z4B","b":14,"q":19,"v":2},
{"s":"4X6TU","b":28,"q":66,"v":2},{"s":"4X6TU","b":28,"q":68,"v":2},{"s":"4X6TU","b":18,"q":77,"v":1},{"s":"4X6TU","b":14,"q":33,"v":1},
{"s":"OH2B","b":24,"q":55,"v":1},
{"s":"CS3B","b":28,"q":52,"v":3},{"s":"CS3B","b":28,"q":53,"v":4},{"s":"CS3B","b":28,"q":54,"v":4},{"s":"CS3B","b":28,"q":55,"v":3},{"s":"CS3B","b":28,"q":56,"v":3},{"s":"CS3B","b":28,"q":57,"v":3},{"s":"CS3B","b":28,"q":58,"v":3},{"s":"CS3B","b":28,"q":59,"v":2},{"s":"CS3B","b":28,"q":60,"v":2},{"s":"CS3B","b":28,"q":61,"v":3},{"s":"CS3B","b":28,"q":62,"v":4},{"s":"CS3B","b":28,"q":64,"v":2},{"s":"CS3B","b":28,"q":65,"v":3},{"s":"CS3B","b":28,"q":66,"v":3},{"s":"CS3B","b":28,"q":67,"v":2},{"s":"CS3B","b":28,"q":68,"v":2},{"s":"CS3B","b":28,"q":69,"v":3},{"s":"CS3B","b":28,"q":71,"v":4},{"s":"CS3B","b":28,"q":72,"v":3},{"s":"CS3B","b":28,"q":73,"v":2},{"s":"CS3B","b":28,"q":74,"v":3},{"s":"CS3B","b":28,"q":75,"v":3},{"s":"CS3B","b":28,"q":76,"v":3},{"s":"CS3B","b":28,"q":77,"v":3},{"s":"CS3B","b":28,"q":78,"v":3},{"s":"CS3B","b":28,"q":79,"v":2},{"s":"CS3B","b":28,"q":81,"v":3},{"s":"CS3B","b":28,"q":82,"v":3},{"s":"CS3B","b":28,"q":83,"v":3},
{"s":"CS3B","b":24,"q":0,"v":3},{"s":"CS3B","b":24,"q":47,"v":2},{"s":"CS3B","b":24,"q":48,"v":2},{"s":"CS3B","b":24,"q":49,"v":3},{"s":"CS3B","b":24,"q":50,"v":2},{"s":"CS3B","b":24,"q":51,"v":3},{"s":"CS3B","b":24,"q":52,"v":2},{"s":"CS3B","b":24,"q":54,"v":3},{"s":"CS3B","b":24,"q":55,"v":2},{"s":"CS3B","b":24,"q":56,"v":4},{"s":"CS3B","b":24,"q":57,"v":4},{"s":"CS3B","b":24,"q":59,"v":3},{"s":"CS3B","b":24,"q":60,"v":3},{"s":"CS3B","b":24,"q":61,"v":3},{"s":"CS3B","b":24,"q":62,"v":3},{"s":"CS3B","b":24,"q":63,"v":3},{"s":"CS3B","b":24,"q":64,"v":3},{"s":"CS3B","b":24,"q":65,"v":3},{"s":"CS3B","b":24,"q":66,"v":3},{"s":"CS3B","b":24,"q":67,"v":3},{"s":"CS3B","b":24,"q":68,"v":4},{"s":"CS3B","b":24,"q":69,"v":3},{"s":"CS3B","b":24,"q":71,"v":3},{"s":"CS3B","b":24,"q":72,"v":3},{"s":"CS3B","b":24,"q":73,"v":3},{"s":"CS3B","b":24,"q":74,"v":2},{"s":"CS3B","b":24,"q":75,"v":3},{"s":"CS3B","b":24,"q":76,"v":3},{"s":"CS3B","b":24,"q":77,"v":2},{"s":"CS3B","b":24,"q":78,"v":3},{"s":"CS3B","b":24,"q":79,"v":4},{"s":"CS3B","b":24,"q":80,"v":3},{"s":"CS3B","b":24,"q":81,"v":4},{"s":"CS3B","b":24,"q":82,"v":3},{"s":"CS3B","b":24,"q":83,"v":4},{"s":"CS3B","b":24,"q":84,"v":3},{"s":"CS3B","b":24,"q":85,"v":3},{"s":"CS3B","b":24,"q":86,"v":4},{"s":"CS3B","b":24,"q":87,"v":2},{"s":"CS3B","b":24,"q":89,"v":2},{"s":"CS3B","b":24,"q":90,"v":3},{"s":"CS3B","b":24,"q":91,"v":2},{"s":"CS3B","b":24,"q":92,"v":3},{"s":"CS3B","b":24,"q":93,"v":3},
{"s":"CS3B","b":21,"q":1,"v":3},{"s":"CS3B","b":21,"q":2,"v":2},{"s":"CS3B","b":21,"q":3,"v":2},{"s":"CS3B","b":21,"q":5,"v":3},{"s":"CS3B","b":21,"q":6,"v":4},{"s":"CS3B","b":21,"q":8,"v":3},{"s":"CS3B","b":21,"q":9,"v":3},{"s":"CS3B","b":21,"q":10,"v":3},{"s":"CS3B","b":21,"q":12,"v":2},{"s":"CS3B","b":21,"q":13,"v":2},{"s":"CS3B","b":21,"q":48,"v":2},{"s":"CS3B","b":21,"q":49,"v":2},{"s":"CS3B","b":21,"q":54,"v":2},{"s":"CS3B","b":21,"q":56,"v":1},{"s":"CS3B","b":21,"q":57,"v":2},{"s":"CS3B","b":21,"q":63,"v":2},{"s":"CS3B","b":21,"q":64,"v":2},{"s":"CS3B","b":21,"q":65,"v":2},{"s":"CS3B","b":21,"q":70,"v":2},{"s":"CS3B","b":21,"q":72,"v":2},{"s":"CS3B","b":21,"q":75,"v":2},{"s":"CS3B","b":21,"q":77,"v":3},{"s":"CS3B","b":21,"q":81,"v":2},{"s":"CS3B","b":21,"q":82,"v":4},{"s":"CS3B","b":21,"q":83,"v":2},{"s":"CS3B","b":21,"q":85,"v":2},{"s":"CS3B","b":21,"q":86,"v":2},{"s":"CS3B","b":21,"q":87,"v":2},{"s":"CS3B","b":21,"q":88,"v":3},{"s":"CS3B","b":21,"q":89,"v":2},{"s":"CS3B","b":21,"q":90,"v":2},{"s":"CS3B","b":21,"q":91,"v":3},{"s":"CS3B","b":21,"q":92,"v":3},{"s":"CS3B","b":21,"q":93,"v":2},{"s":"CS3B","b":21,"q":94,"v":2},{"s":"CS3B","b":21,"q":95,"v":3},
{"s":"CS3B","b":18,"q":0,"v":3},{"s":"CS3B","b":18,"q":2,"v":3},{"s":"CS3B","b":18,"q":3,"v":2},{"s":"CS3B","b":18,"q":4,"v":2},{"s":"CS3B","b":18,"q":5,"v":3},{"s":"CS3B","b":18,"q":6,"v":2},{"s":"CS3B","b":18,"q":7,"v":3},{"s":"CS3B","b":18,"q":8,"v":3},{"s":"CS3B","b":18,"q":9,"v":3},{"s":"CS3B","b":18,"q":11,"v":3},{"s":"CS3B","b":18,"q":12,"v":4},{"s":"CS3B","b":18,"q":13,"v":3},{"s":"CS3B","b":18,"q":14,"v":4},{"s":"CS3B","b":18,"q":15,"v":3},{"s":"CS3B","b":18,"q":17,"v":2},{"s":"CS3B","b":18,"q":19,"v":2},{"s":"CS3B","b":18,"q":20,"v":2},{"s":"CS3B","b":18,"q":21,"v":3},{"s":"CS3B","b":18,"q":24,"v":3},{"s":"CS3B","b":18,"q":25,"v":3},{"s":"CS3B","b":18,"q":26,"v":2},{"s":"CS3B","b":18,"q":27,"v":3},{"s":"CS3B","b":18,"q":29,"v":3},{"s":"CS3B","b":18,"q":30,"v":3},{"s":"CS3B","b":18,"q":32,"v":2},{"s":"CS3B","b":18,"q":79,"v":2},{"s":"CS3B","b":18,"q":81,"v":1},{"s":"CS3B","b":18,"q":82,"v":2},{"s":"CS3B","b":18,"q":83,"v":3},{"s":"CS3B","b":18,"q":84,"v":2},{"s":"CS3B","b":18,"q":85,"v":2},{"s":"CS3B","b":18,"q":88,"v":2},{"s":"CS3B","b":18,"q":89,"v":2},{"s":"CS3B","b":18,"q":90,"v":3},{"s":"CS3B","b":18,"q":91,"v":2},{"s":"CS3B","b":18,"q":92,"v":2},{"s":"CS3B","b":18,"q":94,"v":2},
{"s":"CS3B","b":14,"q":0,"v":2},{"s":"CS3B","b":14,"q":1,"v":3},{"s":"CS3B","b":14,"q":2,"v":4},{"s":"CS3B","b":14,"q":3,"v":3},{"s":"CS3B","b":14,"q":4,"v":3},{"s":"CS3B","b":14,"q":5,"v":3},{"s":"CS3B","b":14,"q":6,"v":3},{"s":"CS3B","b":14,"q":7,"v":3},{"s":"CS3B","b":14,"q":8,"v":3},{"s":"CS3B","b":14,"q":9,"v":3},{"s":"CS3B","b":14,"q":10,"v":3},{"s":"CS3B","b":14,"q":11,"v":3},{"s":"CS3B","b":14,"q":12,"v":3},{"s":"CS3B","b":14,"q":13,"v":3},{"s":"CS3B","b":14,"q":14,"v":3},{"s":"CS3B","b":14,"q":15,"v":3},{"s":"CS3B","b":14,"q":16,"v":4},{"s":"CS3B","b":14,"q":17,"v":2},{"s":"CS3B","b":14,"q":18,"v":2},{"s":"CS3B","b":14,"q":19,"v":3},{"s":"CS3B","b":14,"q":20,"v":4},{"s":"CS3B","b":14,"q":21,"v":3},{"s":"CS3B","b":14,"q":22,"v":3},{"s":"CS3B","b":14,"q":23,"v":4},{"s":"CS3B","b":14,"q":24,"v":2},{"s":"CS3B","b":14,"q":25,"v":4},{"s":"CS3B","b":14,"q":26,"v":3},{"s":"CS3B","b":14,"q":27,"v":3},{"s":"CS3B","b":14,"q":28,"v":4},{"s":"CS3B","b":14,"q":30,"v":3},{"s":"CS3B","b":14,"q":32,"v":2},{"s":"CS3B","b":14,"q":33,"v":3},{"s":"CS3B","b":14,"q":34,"v":3},{"s":"CS3B","b":14,"q":35,"v":3},{"s":"CS3B","b":14,"q":37,"v":2},{"s":"CS3B","b":14,"q":38,"v":2},{"s":"CS3B","b":14,"q":40,"v":2},{"s":"CS3B","b":14,"q":41,"v":2},{"s":"CS3B","b":14,"q":85,"v":2},{"s":"CS3B","b":14,"q":88,"v":2},{"s":"CS3B","b":14,"q":90,"v":2},{"s":"CS3B","b":14,"q":91,"v":3},{"s":"CS3B","b":14,"q":92,"v":2},{"s":"CS3B","b":14,"q":94,"v":3},{"s":"CS3B","b":14,"q":95,"v":3},
{"s":"LU4AA","b":28,"q":0,"v":3},{"s":"LU4AA","b":28,"q":1,"v":5},{"s":"LU4AA","b":28,"q":50,"v":2},{"s":"LU4AA","b":28,"q":51,"v":2},{"s":"LU4AA","b":28,"q":52,"v":3},{"s":"LU4AA","b":28,"q":53,"v":1},{"s":"LU4AA","b":28,"q":55,"v":3},{"s":"LU4AA","b":28,"q":56,"v":3},{"s":"LU4AA","b":28,"q":57,"v":2},{"s":"LU4AA","b":28,"q":58,"v":3},{"s":"LU4AA","b":28,"q":59,"v":2},{"s":"LU4AA","b":28,"q":60,"v":1},{"s":"LU4AA","b":28,"q":61,"v":2},{"s":"LU4AA","b":28,"q":63,"v":3},{"s":"LU4AA","b":28,"q":64,"v":3},{"s":"LU4AA","b":28,"q":65,"v":3},{"s":"LU4AA","b":28,"q":66,"v":2},{"s":"LU4AA","b":28,"q":67,"v":3},{"s":"LU4AA","b":28,"q":68,"v":4},{"s":"LU4AA","b":28,"q":69,"v":3},{"s":"LU4AA","b":28,"q":70,"v":4},{"s":"LU4AA","b":28,"q":71,"v":3},{"s":"LU4AA","b":28,"q":72,"v":2},{"s":"LU4AA","b":28,"q":73,"v":3},{"s":"LU4AA","b":28,"q":74,"v":2},{"s":"LU4AA","b":28,"q":75,"v":2},{"s":"LU4AA","b":28,"q":77,"v":3},{"s":"LU4AA","b":28,"q":78,"v":3},{"s":"LU4AA","b":28,"q":79,"v":5},{"s":"LU4AA","b":28,"q":80,"v":2},{"s":"LU4AA","b":28,"q":81,"v":2},{"s":"LU4AA","b":28,"q":82,"v":3},{"s":"LU4AA","b":28,"q":83,"v":2},{"s":"LU4AA","b":28,"q":84,"v":2},{"s":"LU4AA","b":28,"q":85,"v":3},{"s":"LU4AA","b":28,"q":86,"v":3},{"s":"LU4AA","b":28,"q":87,"v":4},{"s":"LU4AA","b":28,"q":89,"v":4},{"s":"LU4AA","b":28,"q":90,"v":4},{"s":"LU4AA","b":28,"q":91,"v":4},{"s":"LU4AA","b":28,"q":92,"v":3},{"s":"LU4AA","b":28,"q":93,"v":4},{"s":"LU4AA","b":28,"q":94,"v":3},{"s":"LU4AA","b":28,"q":95,"v":2},
{"s":"LU4AA","b":24,"q":0,"v":2},{"s":"LU4AA","b":24,"q":1,"v":3},{"s":"LU4AA","b":24,"q":66,"v":2},{"s":"LU4AA","b":24,"q":73,"v":1},{"s":"LU4AA","b":24,"q":74,"v":2},{"s":"LU4AA","b":24,"q":79,"v":2},{"s":"LU4AA","b":24,"q":80,"v":3},{"s":"LU4AA","b":24,"q":82,"v":3},{"s":"LU4AA","b":24,"q":83,"v":3},{"s":"LU4AA","b":24,"q":84,"v":2},{"s":"LU4AA","b":24,"q":86,"v":3},{"s":"LU4AA","b":24,"q":87,"v":4},{"s":"LU4AA","b":24,"q":88,"v":3},{"s":"LU4AA","b":24,"q":89,"v":4},{"s":"LU4AA","b":24,"q":90,"v":3},{"s":"LU4AA","b":24,"q":91,"v":4},{"s":"LU4AA","b":24,"q":92,"v":4},{"s":"LU4AA","b":24,"q":93,"v":3},
{"s":"LU4AA","b":21,"q":0,"v":4},{"s":"LU4AA","b":21,"q":1,"v":4},{"s":"LU4AA","b":21,"q":2,"v":3},{"s":"LU4AA","b":21,"q":4,"v":2},{"s":"LU4AA","b":21,"q":5,"v":3},{"s":"LU4AA","b":21,"q":6,"v":2},{"s":"LU4AA","b":21,"q":87,"v":1},{"s":"LU4AA","b":21,"q":89,"v":2},{"s":"LU4AA","b":21,"q":91,"v":4},{"s":"LU4AA","b":21,"q":92,"v":5},{"s":"LU4AA","b":21,"q":93,"v":3},{"s":"LU4AA","b":21,"q":94,"v":3},{"s":"LU4AA","b":21,"q":95,"v":3},
{"s":"LU4AA","b":18,"q":1,"v":3},{"s":"LU4AA","b":18,"q":2,"v":2},{"s":"LU4AA","b":18,"q":3,"v":3},{"s":"LU4AA","b":18,"q":4,"v":2},{"s":"LU4AA","b":18,"q":7,"v":2},{"s":"LU4AA","b":18,"q":17,"v":1},{"s":"LU4AA","b":18,"q":91,"v":2},{"s":"LU4AA","b":18,"q":92,"v":3},{"s":"LU4AA","b":18,"q":93,"v":3},{"s":"LU4AA","b":18,"q":94,"v":3},
{"s":"LU4AA","b":14,"q":0,"v":3},{"s":"LU4AA","b":14,"q":1,"v":4},{"s":"LU4AA","b":14,"q":2,"v":3},{"s":"LU4AA","b":14,"q":3,"v":3},{"s":"LU4AA","b":14,"q":5,"v":3},{"s":"LU4AA","b":14,"q":6,"v":3},{"s":"LU4AA","b":14,"q":7,"v":2},{"s":"LU4AA","b":14,"q":8,"v":4},{"s":"LU4AA","b":14,"q":9,"v":2},{"s":"LU4AA","b":14,"q":10,"v":2},{"s":"LU4AA","b":14,"q":11,"v":2},{"s":"LU4AA","b":14,"q":12,"v":2},{"s":"LU4AA","b":14,"q":16,"v":2},{"s":"LU4AA","b":14,"q":18,"v":2},{"s":"LU4AA","b":14,"q":42,"v":2},{"s":"LU4AA","b":14,"q":43,"v":2},{"s":"LU4AA","b":14,"q":94,"v":2},{"s":"LU4AA","b":14,"q":95,"v":2},
{"s":"OA4B","b":28,"q":53,"v":2},{"s":"OA4B","b":28,"q":60,"v":2},{"s":"OA4B","b":28,"q":61,"v":2},{"s":"OA4B","b":28,"q":62,"v":3},{"s":"OA4B","b":28,"q":63,"v":3},{"s":"OA4B","b":28,"q":67,"v":2},{"s":"OA4B","b":28,"q":71,"v":3},{"s":"OA4B","b":28,"q":72,"v":3},{"s":"OA4B","b":28,"q":73,"v":2},{"s":"OA4B","b":28,"q":75,"v":1},{"s":"OA4B","b":28,"q":76,"v":3},{"s":"OA4B","b":28,"q":79,"v":3},{"s":"OA4B","b":28,"q":83,"v":3},{"s":"OA4B","b":28,"q":84,"v":3},{"s":"OA4B","b":28,"q":85,"v":2},{"s":"OA4B","b":28,"q":86,"v":2},
{"s":"OA4B","b":24,"q":60,"v":2},{"s":"OA4B","b":24,"q":62,"v":1},{"s":"OA4B","b":24,"q":63,"v":2},{"s":"OA4B","b":24,"q":70,"v":2},{"s":"OA4B","b":24,"q":71,"v":2},{"s":"OA4B","b":24,"q":72,"v":2},{"s":"OA4B","b":24,"q":74,"v":2},{"s":"OA4B","b":24,"q":75,"v":2},{"s":"OA4B","b":24,"q":76,"v":2},{"s":"OA4B","b":24,"q":77,"v":2},{"s":"OA4B","b":24,"q":80,"v":2},{"s":"OA4B","b":24,"q":81,"v":2},{"s":"OA4B","b":24,"q":82,"v":2},{"s":"OA4B","b":24,"q":83,"v":2},{"s":"OA4B","b":24,"q":84,"v":2},{"s":"OA4B","b":24,"q":85,"v":3},{"s":"OA4B","b":24,"q":86,"v":2},{"s":"OA4B","b":24,"q":88,"v":3},{"s":"OA4B","b":24,"q":89,"v":3},
{"s":"OA4B","b":21,"q":14,"v":2},{"s":"OA4B","b":21,"q":15,"v":2},{"s":"OA4B","b":21,"q":17,"v":2},{"s":"OA4B","b":21,"q":19,"v":2},{"s":"OA4B","b":21,"q":52,"v":2},{"s":"OA4B","b":21,"q":53,"v":3},{"s":"OA4B","b":21,"q":57,"v":3},{"s":"OA4B","b":21,"q":58,"v":3},{"s":"OA4B","b":21,"q":59,"v":3},{"s":"OA4B","b":21,"q":60,"v":3},{"s":"OA4B","b":21,"q":62,"v":3},{"s":"OA4B","b":21,"q":63,"v":2},{"s":"OA4B","b":21,"q":64,"v":3},{"s":"OA4B","b":21,"q":65,"v":2},{"s":"OA4B","b":21,"q":66,"v":2},{"s":"OA4B","b":21,"q":67,"v":2},{"s":"OA4B","b":21,"q":68,"v":3},{"s":"OA4B","b":21,"q":69,"v":4},{"s":"OA4B","b":21,"q":70,"v":3},{"s":"OA4B","b":21,"q":75,"v":2},{"s":"OA4B","b":21,"q":76,"v":1},{"s":"OA4B","b":21,"q":79,"v":2},{"s":"OA4B","b":21,"q":82,"v":3},{"s":"OA4B","b":21,"q":83,"v":3},{"s":"OA4B","b":21,"q":84,"v":4},{"s":"OA4B","b":21,"q":85,"v":3},{"s":"OA4B","b":21,"q":86,"v":3},{"s":"OA4B","b":21,"q":87,"v":2},{"s":"OA4B","b":21,"q":88,"v":3},{"s":"OA4B","b":21,"q":89,"v":2},{"s":"OA4B","b":21,"q":90,"v":3},{"s":"OA4B","b":21,"q":91,"v":3},
{"s":"OA4B","b":18,"q":3,"v":2},{"s":"OA4B","b":18,"q":15,"v":2},{"s":"OA4B","b":18,"q":16,"v":2},{"s":"OA4B","b":18,"q":17,"v":2},{"s":"OA4B","b":18,"q":21,"v":2},{"s":"OA4B","b":18,"q":22,"v":3},{"s":"OA4B","b":18,"q":23,"v":3},{"s":"OA4B","b":18,"q":25,"v":2},{"s":"OA4B","b":18,"q":52,"v":1},{"s":"OA4B","b":18,"q":56,"v":2},{"s":"OA4B","b":18,"q":61,"v":2},{"s":"OA4B","b":18,"q":81,"v":2},{"s":"OA4B","b":18,"q":83,"v":2},{"s":"OA4B","b":18,"q":85,"v":3},{"s":"OA4B","b":18,"q":87,"v":2},{"s":"OA4B","b":18,"q":89,"v":2},{"s":"OA4B","b":18,"q":90,"v":2},{"s":"OA4B","b":18,"q":91,"v":3},
{"s":"OA4B","b":14,"q":1,"v":2},{"s":"OA4B","b":14,"q":6,"v":2},{"s":"OA4B","b":14,"q":7,"v":2},{"s":"OA4B","b":14,"q":10,"v":2},{"s":"OA4B","b":14,"q":13,"v":2},{"s":"OA4B","b":14,"q":16,"v":2},{"s":"OA4B","b":14,"q":17,"v":2},{"s":"OA4B","b":14,"q":18,"v":2},{"s":"OA4B","b":14,"q":21,"v":4},{"s":"OA4B","b":14,"q":22,"v":2},{"s":"OA4B","b":14,"q":23,"v":2},{"s":"OA4B","b":14,"q":25,"v":2},{"s":"OA4B","b":14,"q":26,"v":2},{"s":"OA4B","b":14,"q":28,"v":2},
{"s":"YV5B","b":28,"q":45,"v":1},{"s":"YV5B","b":14,"q":5,"v":1}
]},
"hconcat":[
{"spacing":0,"vconcat":[
{"width":863,"height":32.5,"data":{"values":[{}]},"mark":{"type":"rule","color":"#6a6a6a","strokeWidth":2},"encoding":{
"x":{"datum":-1.89,"type":"quantitative","scale":{"domain":[-1.954,102.56],"range":[7,863],"nice":false,"zero":false},"axis":{"orient":"top","offset":-30.5,"values":[0,12,24,36,48,60,72,84,96],"labelExpr":"datum.value==96?'UTC':(datum.value/4<10?'0':'')+datum.value/4","title":null,"grid":false,"domainColor":"#6a6a6a","domainWidth":2,"tickColor":"#222","tickSize":13,"tickWidth":1.2,"labelAlign":"left","labelPadding":-7,"labelOffset":5,"labelFlush":false,"labelOverlap":false,"labelFont":"Liberation Sans","labelFontSize":16,"labelColor":"#222"}},
"y":{"datum":0,"type":"quantitative","scale":{"domain":[0,1]},"axis":null},"y2":{"datum":0.0615}}},
{"data":{"name":"L"},"spacing":0,"bounds":"flush","resolve":{"axis":{"y":"independent"}},
"facet":{"row":{"field":"s","header":null,"sort":["4U1UN","VE8AT","W6WX","KH6RS","ZL6B","VK6RBP","JA2IGY","RR9O","VR2B"]}},
"spec":{"width":863,"height":91.67,"resolve":{"axis":{"y":"independent"}},
"encoding":{"x":{"type":"quantitative","axis":null,"scale":{"domain":[-2.808,102.56],"nice":false,"zero":false}},"y":{"type":"ordinal","axis":null,"scale":{"domain":[0,28,24,21,18,14],"range":[15.74,83.6],"paddingInner":0.16,"paddingOuter":0.08}}},
"layer":[
{"data":{"values":[{}]},"mark":{"type":"rule","color":"#6a6a6a","strokeWidth":2},"encoding":{"x":{"datum":-1.89},"y":null}},
{"data":{"values":[{}]},"mark":{"type":"rect","color":"#999999","yOffset":-10.05,"y2Offset":10.1},"encoding":{"x":{"datum":-0.49},"x2":{"datum":96.46},"y":{"datum":28},"y2":{"datum":14}}},
{"data":{"values":[{}]},"mark":{"type":"rect","color":"#6e6e6e","yOffset":-5.3,"y2Offset":5.3},"encoding":{"x":{"datum":0},"x2":{"datum":96},"y":{"datum":28},"y2":{"datum":14}}},
{"data":{"name":"slots"},"mark":{"type":"rule","color":"#939393","strokeWidth":1.6,"yOffset":-5.3,"y2Offset":5.3},"encoding":{"x":{"field":"q"},"y":{"datum":28},"y2":{"datum":14}}},
{"data":{"name":"seps"},"mark":{"type":"rule","color":"#939393","strokeWidth":2,"yOffset":5.65},"encoding":{"x":{"datum":0},"x2":{"datum":96},"y":{"field":"b"}}},
{"mark":{"type":"rect","width":6.6,"xOffset":4.095},"encoding":{"x":{"field":"q"},"y":{"field":"b","axis":{"orient":"right","offset":-46,"values":[28,24,21,18,14],"labelExpr":"datum.value==28||datum.value==14?datum.label:''","title":null,"domain":false,"grid":false,"tickSize":7,"tickColor":"#222","tickWidth":1.2,"labelPadding":3,"labelFont":"Liberation Sans","labelFontSize":16,"labelColor":"#222","labelOverlap":false}},"color":{"field":"v","type":"ordinal","legend":null,"scale":{"domain":[0,1,2,3,4,5,6],"range":["#6e6e6e","#8080ff","#80c0ff","#80ffff","#80ffc0","#80ff80","#c0ff80"]}}}},
{"data":{"name":"hours"},"mark":{"type":"rule","color":"#ececec","strokeWidth":1.5,"yOffset":-10.05,"y2Offset":10.1},"encoding":{"x":{"field":"q"},"y":{"datum":28},"y2":{"datum":14}}},
{"transform":[{"aggregate":[{"op":"count","as":"n"}],"groupby":["s"]}],"mark":{"type":"text","align":"left","baseline":"alphabetic","fontSize":16.5,"dy":-3.2},"encoding":{"x":{"datum":-0.42},"y":{"datum":0},"text":{"field":"s"}}}
]}},
{"width":863,"height":8.5,"data":{"values":[{}]},"mark":{"type":"rule","color":"#6a6a6a","strokeWidth":2},"encoding":{"x":{"datum":-1.89,"type":"quantitative","axis":null,"scale":{"domain":[-2.808,102.56],"nice":false,"zero":false}}}}
]},
{"spacing":0,"vconcat":[
{"width":838,"height":29,"data":{"values":[{}]},"mark":{"type":"rule","color":"#6a6a6a","strokeWidth":2},"encoding":{
"x":{"datum":-1.92,"type":"quantitative","scale":{"domain":[-1.95,102.94],"range":[6.5,838],"nice":false,"zero":false},"axis":{"orient":"top","offset":-29,"values":[0,12,24,36,48,60,72,84,96],"labelExpr":"datum.value==96?'UTC':(datum.value/4<10?'0':'')+datum.value/4","title":null,"grid":false,"domainColor":"#6a6a6a","domainWidth":2,"tickColor":"#222","tickSize":13,"tickWidth":1.2,"labelAlign":"left","labelPadding":-7,"labelOffset":5,"labelFlush":false,"labelOverlap":false,"labelFont":"Liberation Sans","labelFontSize":16,"labelColor":"#222"}},
"y":{"datum":0,"type":"quantitative","scale":{"domain":[0,1]},"axis":null},"y2":{"datum":0.02}}},
{"data":{"name":"R"},"spacing":0,"bounds":"flush","resolve":{"axis":{"y":"independent"}},
"facet":{"row":{"field":"s","header":null,"sort":["4S7B","ZS6DN","5Z4B","4X6TU","OH2B","CS3B","LU4AA","OA4B","YV5B"]}},
"spec":{"width":838,"height":88.9,"resolve":{"axis":{"y":"independent"}},
"encoding":{"x":{"type":"quantitative","axis":null,"scale":{"domain":[-2.74,102.94],"nice":false,"zero":false}},"y":{"type":"ordinal","axis":null,"scale":{"domain":[0,28,24,21,18,14],"range":[11.85,78.87],"paddingInner":0.16,"paddingOuter":0.08}}},
"layer":[
{"data":{"values":[{}]},"mark":{"type":"rule","color":"#6a6a6a","strokeWidth":2},"encoding":{"x":{"datum":-1.92},"y":null}},
{"data":{"values":[{}]},"mark":{"type":"rect","color":"#999999","yOffset":-9.2,"y2Offset":9.4},"encoding":{"x":{"datum":-0.5},"x2":{"datum":96.4},"y":{"datum":28},"y2":{"datum":14}}},
{"data":{"values":[{}]},"mark":{"type":"rect","color":"#6e6e6e","yOffset":-5.2,"y2Offset":5.2},"encoding":{"x":{"datum":0},"x2":{"datum":96},"y":{"datum":28},"y2":{"datum":14}}},
{"data":{"name":"slots"},"mark":{"type":"rule","color":"#939393","strokeWidth":1.6,"yOffset":-5.2,"y2Offset":5.2},"encoding":{"x":{"field":"q"},"y":{"datum":28},"y2":{"datum":14}}},
{"data":{"name":"seps"},"mark":{"type":"rule","color":"#939393","strokeWidth":2,"yOffset":5.58},"encoding":{"x":{"datum":0},"x2":{"datum":96},"y":{"field":"b"}}},
{"mark":{"type":"rect","width":6.4,"xOffset":3.965},"encoding":{"x":{"field":"q"},"y":{"field":"b","axis":{"orient":"right","offset":-48,"values":[28,24,21,18,14],"labelExpr":"datum.value==28||datum.value==14?datum.label:''","title":null,"domain":false,"grid":false,"tickSize":6,"tickColor":"#222","tickWidth":1.2,"labelPadding":5,"labelFont":"Liberation Sans","labelFontSize":16,"labelColor":"#222","labelOverlap":false}},"color":{"field":"v","type":"ordinal","legend":null,"scale":{"domain":[0,1,2,3,4,5,6],"range":["#6e6e6e","#8080ff","#80c0ff","#80ffff","#80ffc0","#80ff80","#c0ff80"]}}}},
{"data":{"name":"hours"},"mark":{"type":"rule","color":"#ececec","strokeWidth":1.5,"yOffset":-9.2,"y2Offset":9.4},"encoding":{"x":{"field":"q"},"y":{"datum":28},"y2":{"datum":14}}},
{"transform":[{"aggregate":[{"op":"count","as":"n"}],"groupby":["s"]}],"mark":{"type":"text","align":"left","baseline":"alphabetic","fontSize":16.5,"dy":-3.2},"encoding":{"x":{"datum":-0.5},"y":{"datum":0},"text":{"field":"s"}}}
]}},
{"width":838,"height":36.9,"data":{"values":[{"t":"Faros 1.4","q":-0.46},{"t":"Date: 2025-09-26","q":58},{"t":"QTH: 30°15' N","q":77.05},{"t":"97°50' W","q":92.2}]},
"layer":[
{"mark":{"type":"rule","color":"#6a6a6a","strokeWidth":2},"encoding":{"x":{"datum":-1.92,"type":"quantitative","axis":null,"scale":{"domain":[-2.74,102.94],"nice":false,"zero":false}}}},
{"mark":{"type":"text","align":"left","baseline":"alphabetic","fontSize":15,"dy":6},"encoding":{"x":{"field":"q","type":"quantitative","axis":null,"scale":{"domain":[-2.74,102.94],"nice":false,"zero":false}},"text":{"field":"t"}}}
]}
]}
],"spacing":21}
